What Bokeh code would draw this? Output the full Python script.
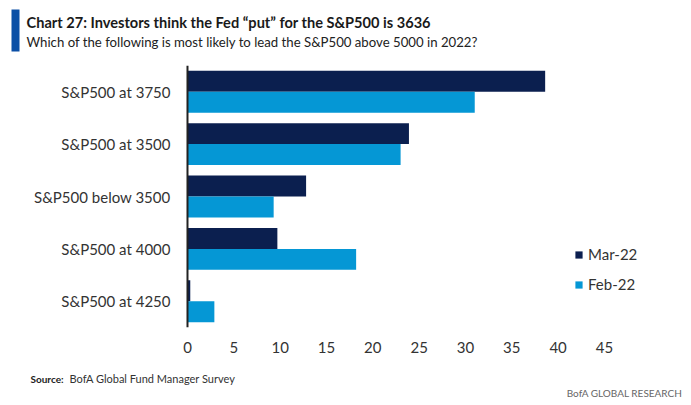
from bokeh.plotting import figure
from bokeh.layouts import column
from bokeh.models import (FactorRange, Range1d, FixedTicker, Label, Legend, LegendItem,
                          ColumnDataSource, Span)
from bokeh.core.properties import value
from bokeh.transform import dodge
from bokeh.embed import file_html
from bokeh.resources import INLINE

categories = ["S&P500 at 3750", "S&P500 at 3500", "S&P500 below 3500",
              "S&P500 at 4000", "S&P500 at 4250"]
mar22 = [38.6, 23.9, 12.8, 9.7, 0.3]
feb22 = [31.0, 23.0, 9.3, 18.2, 2.9]
x_ticks = [0, 5, 10, 15, 20, 25, 30, 35, 40, 45]

title_text = "Chart 27: Investors think the Fed \u201cput\u201d  for the S&P500 is 3636"
subtitle_text = "Which of the following is most likely to lead the S&P500 above 5000 in 2022?"
source_label = "Source:"
source_text = "BofA Global Fund Manager Survey"
brand_text = "BofA GLOBAL RESEARCH"

FONT = "Lato"
MAR_C = "#0b1f4f"
FEB_C = "#0597d5"
W = 683


def blank(height):
    f = figure(width=W, height=height, x_range=Range1d(0, W), y_range=Range1d(height, 0),
               output_backend="svg", toolbar_location=None, title=None,
               x_axis_type=None, y_axis_type=None,
               min_border=0, min_border_left=0, min_border_right=0,
               min_border_top=0, min_border_bottom=0)
    f.outline_line_color = None
    f.xgrid.visible = False
    f.ygrid.visible = False
    return f


def lab(f, text, x, y, size, bold=False, color="#222222", align="left"):
    f.add_layout(Label(x=x, y=y, text=text, text_font=FONT, text_font_size=size,
                       text_font_style="bold" if bold else "normal",
                       text_color=color, text_align=align, text_baseline="middle"))


# header
head = blank(57)
head.quad(left=[11], right=[19], top=[9], bottom=[51], color="#0a4fa6", line_color=None)
lab(head, title_text, 26, 22, "14.6px", bold=True, color="#1a1a1a")
lab(head, subtitle_text, 26, 41, "13.2px", color="#222222")

# main chart (frame spans the full width; value 0 sits at x = 187 px)
factors = list(reversed(categories))
src = ColumnDataSource(dict(cat=categories, mar=mar22, feb=feb22))

p = figure(width=W, height=305, y_range=FactorRange(*factors), x_range=Range1d(-20.18, 53.53),
           output_backend="svg", toolbar_location=None, y_axis_location=None,
           min_border_left=0, min_border_right=0, min_border_top=8, min_border_bottom=35)
p.outline_line_color = None
p.xgrid.visible = False
p.ygrid.visible = False

r_mar = p.hbar(y=dodge("cat", 0.2, range=p.y_range), right="mar", left=0, height=0.4,
               source=src, color=MAR_C, line_color=None)
r_feb = p.hbar(y=dodge("cat", -0.2, range=p.y_range), right="feb", left=0, height=0.4,
               source=src, color=FEB_C, line_color=None)

# category labels and the vertical axis line
p.text(x=0, y="cat", text="cat", source=src, x_offset=-17, text_align="right",
       text_baseline="middle", text_font=value(FONT), text_font_size="15px",
       text_color="#333333")
p.add_layout(Span(location=0, dimension="height", line_color="#222222", line_width=2))

p.xaxis.ticker = FixedTicker(ticks=x_ticks)
p.xaxis.axis_line_color = None
p.xaxis.major_tick_line_color = None
p.xaxis.minor_tick_line_color = None
p.xaxis.major_label_text_font = FONT
p.xaxis.major_label_text_font_size = "15px"
p.xaxis.major_label_text_color = "#333333"
p.xaxis.major_label_standoff = 8

legend = Legend(items=[LegendItem(label="Mar-22", renderers=[r_mar]),
                       LegendItem(label="Feb-22", renderers=[r_feb])],
                location=(574, 33), orientation="vertical")
legend.padding = 0
legend.margin = 0
legend.border_line_alpha = 0
legend.background_fill_alpha = 0
legend.glyph_width = 9
legend.glyph_height = 9
legend.label_height = 20
legend.spacing = 10
legend.label_standoff = 5
legend.label_text_font = FONT
legend.label_text_font_size = "15px"
legend.label_text_color = "#333333"
p.add_layout(legend)

# footer
foot = blank(35)
lab(foot, source_label, 30, 16, "10px", bold=True, color="#222222")
lab(foot, source_text, 69, 16, "11px", color="#333333")
lab(foot, brand_text, 682, 30, "10px", color="#666666", align="right")

layout = column(head, p, foot, spacing=0)
open("out.html", "w").write(file_html(layout, INLINE))
